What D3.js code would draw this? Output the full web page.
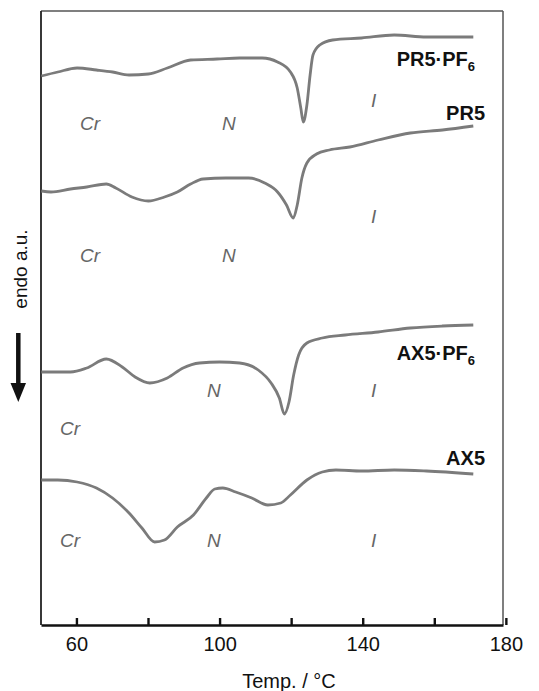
<!DOCTYPE html>
<html>
<head>
<meta charset="utf-8">
<script src="https://cdn.jsdelivr.net/npm/d3@7"></script>
<style>
  body { margin: 0; background: #fff; }
  svg { font-family: "Liberation Sans", Arial, sans-serif; }
</style>
</head>
<body>
<svg></svg>
<script>
// temperatures (°C) and heat flow (a.u., curves offset vertically)
let pr5pf6T = [50.2, 54.8, 60.2, 65.6, 70.1, 74.7, 80.1, 85.4, 91.9, 99.3, 105.6, 111.9, 116.2, 119.8, 121.7, 122.7, 123.4, 124.4, 125.3, 126.1, 128.0, 131.6, 139.7, 148.8, 157.8, 170.9];
let pr5pf6V = [54.8, 55.2, 55.6, 55.4, 55.2, 54.9, 55.0, 55.6, 56.4, 56.5, 56.6, 56.6, 56.2, 55.2, 53.6, 51.6, 50.2, 51.9, 54.9, 56.9, 57.9, 58.4, 58.6, 58.9, 58.7, 58.7];

let pr5T = [50.2, 52.9, 58.35, 62.9, 68.35, 71.0, 75.5, 80.1, 84.6, 88.2, 91.9, 95.4, 101.75, 108.1, 112.6, 116.2, 118.7, 120.6, 121.7, 123.0, 124.4, 127.1, 130.7, 136.4, 144.3, 153.3, 162.3, 170.9];
let pr5V = [43.3, 43.2, 43.5, 43.7, 44.0, 43.6, 42.7, 42.3, 42.7, 43.2, 44.0, 44.5, 44.6, 44.6, 44.1, 43.2, 41.9, 40.6, 41.9, 44.6, 46.1, 47.0, 47.4, 47.7, 48.4, 49.1, 49.4, 49.8];

let ax5pf6T = [50.2, 58.35, 62.9, 68.35, 72.8, 76.4, 80.5, 85.4, 89.8, 94.4, 100.0, 105.6, 110.8, 114.4, 116.7, 118.1, 119.4, 120.7, 122.1, 124.4, 128.7, 135.1, 144.3, 153.3, 162.3, 170.9];
let ax5pf6V = [25.2, 25.2, 25.6, 26.5, 25.7, 24.7, 24.1, 24.6, 25.6, 26.1, 26.2, 26.1, 25.4, 24.1, 22.6, 21.0, 22.2, 24.9, 26.9, 28.1, 28.6, 28.9, 29.2, 29.6, 29.8, 29.9];

let ax5T = [50.2, 54.8, 60.2, 65.6, 70.1, 74.7, 78.3, 81.85, 84.6, 88.2, 92.7, 96.3, 98.65, 100.9, 104.5, 109.0, 113.5, 117.1, 119.8, 124.4, 128.7, 132.5, 139.7, 148.8, 157.8, 170.9];
let ax5V = [14.4, 14.4, 14.2, 13.6, 12.6, 11.1, 9.6, 8.2, 8.4, 9.7, 10.9, 12.6, 13.5, 13.6, 13.2, 12.6, 11.9, 12.1, 12.9, 14.4, 15.2, 15.4, 15.3, 15.4, 15.3, 15.0];

let tickValues = [60, 80, 100, 120, 140, 160, 180];
let tickLabels = ["60", "", "100", "", "140", "", "180"];

let width = 539;
let height = 691;
let plotLeft = 41, plotRight = 503, plotTop = 11, plotBottom = 625;

let svg = d3.select("svg").attr("width", width).attr("height", height);

let xScale = d3.scaleLinear().domain([50.1, 179.2]).range([plotLeft, plotRight]);
let yScale = d3.scaleLinear().domain([-0.1, 61.3]).range([plotBottom, plotTop]);

// frame
svg.append("line").attr("x1", plotLeft).attr("x2", plotRight).attr("y1", plotTop).attr("y2", plotTop)
    .attr("stroke", "#555").attr("stroke-width", 1.5);
svg.append("line").attr("x1", plotRight).attr("x2", plotRight).attr("y1", plotTop).attr("y2", plotBottom)
    .attr("stroke", "#555").attr("stroke-width", 1.5);
svg.append("line").attr("x1", plotLeft).attr("x2", plotLeft).attr("y1", plotTop).attr("y2", plotBottom)
    .attr("stroke", "#222").attr("stroke-width", 1.8);

let curves = [
    [pr5pf6T, pr5pf6V],
    [pr5T, pr5V],
    [ax5pf6T, ax5pf6V],
    [ax5T, ax5V]
];

let line = d3.line()
    .x(d => xScale(d[0]))
    .y(d => yScale(d[1]))
    .curve(d3.curveMonotoneX);

svg.selectAll("path.trace")
    .data(curves)
    .enter()
    .append("path")
    .attr("class", "trace")
    .attr("d", c => line(d3.zip(c[0], c[1])))
    .attr("fill", "none")
    .attr("stroke", "#7b7b7b")
    .attr("stroke-width", 2.8)
    .attr("stroke-linejoin", "round");

// x axis
let xAxis = d3.axisBottom(xScale)
    .tickValues(tickValues)
    .tickSizeInner(-7)
    .tickSizeOuter(0)
    .tickPadding(12)
    .tickFormat((d, i) => tickLabels[i]);

let gx = svg.append("g")
    .attr("transform", `translate(0, ${plotBottom})`)
    .call(xAxis);
gx.select(".domain").attr("stroke", "#111").attr("stroke-width", 2.6);
gx.selectAll(".tick line").attr("stroke", "#111").attr("stroke-width", 2.4);
gx.selectAll(".tick text").attr("font-size", 20).attr("fill", "#111")
    .attr("font-family", "Liberation Sans, Arial, sans-serif");

svg.append("text")
    .attr("x", 289).attr("y", 688)
    .attr("text-anchor", "middle")
    .attr("font-size", 20).attr("fill", "#111")
    .text("Temp. / °C");

// y label + arrow
svg.append("text")
    .attr("transform", "translate(27, 269) rotate(-90)")
    .attr("text-anchor", "middle")
    .attr("font-size", 19).attr("fill", "#111")
    .text("endo a.u.");

svg.append("line")
    .attr("x1", 18.3).attr("x2", 18.3).attr("y1", 333).attr("y2", 386)
    .attr("stroke", "#111").attr("stroke-width", 4.5);
svg.append("path")
    .attr("d", "M10.5,383 L26,383 L18.3,402 Z")
    .attr("fill", "#111");

// sample names
let names = [
    { main: "PR5·PF", sub: "6", x: 475, y: 66 },
    { main: "PR5", sub: "", x: 485, y: 120 },
    { main: "AX5·PF", sub: "6", x: 475, y: 360 },
    { main: "AX5", sub: "", x: 485, y: 465 }
];
names.forEach(n => {
    let t = svg.append("text")
        .attr("x", n.x).attr("y", n.y)
        .attr("text-anchor", "end")
        .attr("font-size", 20).attr("font-weight", "bold").attr("fill", "#111");
    t.append("tspan").text(n.main);
    if (n.sub) {
        t.append("tspan").attr("font-size", 13).attr("dy", 5).text(n.sub);
    }
});

// phase labels
let phases = [
    ["Cr", 80, 130], ["N", 222, 130], ["I", 371, 107],
    ["Cr", 80, 262], ["N", 222, 262], ["I", 371, 223],
    ["N", 207, 397], ["I", 371, 397], ["Cr", 60, 435],
    ["Cr", 60, 547], ["N", 207, 547], ["I", 371, 547]
];
svg.selectAll("text.phase")
    .data(phases)
    .enter()
    .append("text")
    .attr("class", "phase")
    .attr("x", d => d[1]).attr("y", d => d[2])
    .attr("font-size", 19).attr("font-style", "italic").attr("fill", "#666")
    .text(d => d[0]);
</script>
</body>
</html>
